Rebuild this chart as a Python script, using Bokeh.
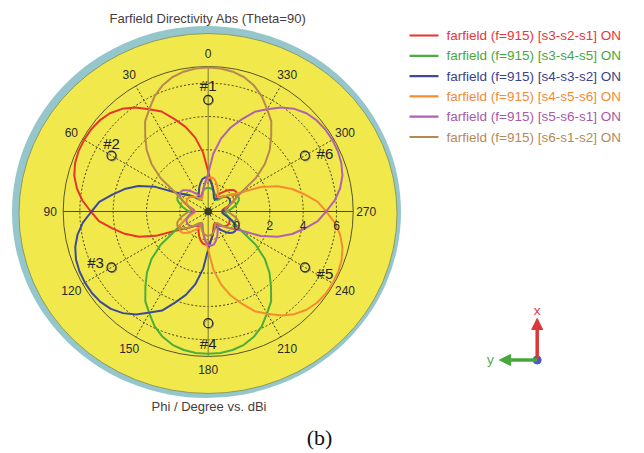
import numpy as np
from bokeh.plotting import figure
from bokeh.models import Range1d, Arrow, NormalHead
from bokeh.core.properties import value
from bokeh.embed import file_html
from bokeh.resources import INLINE

# ---------------- data ----------------
phi_deg = list(range(0, 360, 5))

s3_s2_s1 = [0.70, 1.86, 2.80, 3.56, 4.20, 4.92, 5.38, 5.92, 6.34, 6.64, 6.80, 6.88,
            6.90, 6.88, 6.80, 6.62, 6.30, 5.88, 5.34, 4.88, 4.14, 3.48, 2.72, 1.76,
            0.64, 0.14, -0.18, -0.42, -0.60, -0.66, -0.54, -0.34, -0.12, 0.08, 0.24, 0.30,
            0.24, 0.06, -0.22, -0.52, -0.74, -0.86, -0.88, -0.76, -0.58, -0.46, -0.34, -0.28,
            -0.26, -0.28, -0.34, -0.46, -0.58, -0.74, -0.86, -0.86, -0.72, -0.48, -0.18, 0.12,
            0.30, 0.36, 0.30, 0.12, -0.10, -0.34, -0.54, -0.66, -0.60, -0.42, -0.18, 0.14]

s3_s4_s5 = [-0.28, -0.30, -0.34, -0.46, -0.58, -0.76, -0.86, -0.84, -0.70, -0.46, -0.16, 0.12,
            0.30, 0.34, 0.26, 0.06, -0.14, -0.36, -0.56, -0.68, -0.62, -0.44, -0.20, 0.10,
            0.58, 1.78, 2.74, 3.50, 4.16, 4.88, 5.36, 5.90, 6.30, 6.58, 6.74, 6.82,
            6.84, 6.82, 6.74, 6.58, 6.30, 5.90, 5.36, 4.88, 4.16, 3.50, 2.74, 1.78,
            0.58, 0.08, -0.22, -0.46, -0.64, -0.70, -0.58, -0.36, -0.14, 0.08, 0.26, 0.32,
            0.26, 0.08, -0.22, -0.52, -0.76, -0.86, -0.86, -0.74, -0.56, -0.44, -0.34, -0.30]

s4_s3_s2 = [0.30, 0.36, 0.28, 0.08, -0.14, -0.38, -0.56, -0.68, -0.60, -0.42, -0.18, 0.14,
            0.62, 1.80, 2.76, 3.50, 4.14, 4.86, 5.30, 5.84, 6.26, 6.56, 6.74, 6.82,
            6.84, 6.82, 6.74, 6.56, 6.26, 5.84, 5.30, 4.86, 4.12, 3.48, 2.72, 1.74,
            0.56, 0.08, -0.22, -0.46, -0.62, -0.68, -0.56, -0.34, -0.10, 0.12, 0.26, 0.30,
            0.24, 0.06, -0.22, -0.52, -0.74, -0.86, -0.84, -0.72, -0.54, -0.42, -0.30, -0.24,
            -0.22, -0.24, -0.30, -0.42, -0.56, -0.74, -0.86, -0.86, -0.72, -0.48, -0.18, 0.10]

s4_s5_s6 = [0.30, 0.10, -0.20, -0.50, -0.72, -0.84, -0.86, -0.74, -0.56, -0.44, -0.32, -0.26,
            -0.24, -0.26, -0.32, -0.44, -0.58, -0.76, -0.88, -0.88, -0.74, -0.50, -0.18, 0.10,
            0.30, 0.36, 0.30, 0.10, -0.12, -0.36, -0.56, -0.68, -0.62, -0.44, -0.20, 0.10,
            0.58, 1.78, 2.74, 3.52, 4.18, 4.90, 5.38, 5.92, 6.34, 6.64, 6.82, 6.90,
            6.92, 6.90, 6.82, 6.64, 6.34, 5.92, 5.38, 4.90, 4.18, 3.52, 2.74, 1.78,
            0.58, 0.10, -0.20, -0.44, -0.60, -0.66, -0.54, -0.34, -0.10, 0.12, 0.30, 0.36]

s5_s6_s1 = [0.58, 0.10, -0.20, -0.44, -0.62, -0.68, -0.56, -0.36, -0.12, 0.10, 0.28, 0.34,
            0.28, 0.10, -0.20, -0.50, -0.74, -0.86, -0.86, -0.74, -0.56, -0.44, -0.32, -0.26,
            -0.26, -0.28, -0.34, -0.46, -0.58, -0.76, -0.88, -0.88, -0.74, -0.50, -0.20, 0.10,
            0.30, 0.36, 0.30, 0.10, -0.12, -0.36, -0.56, -0.68, -0.62, -0.44, -0.20, 0.10,
            0.58, 1.78, 2.74, 3.52, 4.18, 4.90, 5.38, 5.92, 6.34, 6.64, 6.80, 6.88,
            6.90, 6.88, 6.80, 6.64, 6.34, 5.92, 5.38, 4.90, 4.18, 3.52, 2.74, 1.78]

s6_s1_s2 = [6.94, 6.91, 6.82, 6.64, 6.34, 5.92, 5.38, 4.90, 4.18, 3.52, 2.74, 1.78,
            0.58, 0.10, -0.20, -0.44, -0.62, -0.68, -0.56, -0.36, -0.12, 0.10, 0.28, 0.34,
            0.28, 0.10, -0.20, -0.50, -0.74, -0.86, -0.86, -0.74, -0.56, -0.44, -0.32, -0.26,
            -0.26, -0.26, -0.32, -0.44, -0.56, -0.74, -0.86, -0.86, -0.74, -0.50, -0.20, 0.10,
            0.28, 0.34, 0.28, 0.10, -0.12, -0.36, -0.56, -0.68, -0.62, -0.44, -0.20, 0.10,
            0.58, 1.78, 2.74, 3.52, 4.18, 4.90, 5.38, 5.92, 6.34, 6.64, 6.82, 6.91]

series_names = ["farfield (f=915) [s3-s2-s1] ON", "farfield (f=915) [s3-s4-s5] ON",
                "farfield (f=915) [s4-s3-s2] ON", "farfield (f=915) [s4-s5-s6] ON",
                "farfield (f=915) [s5-s6-s1] ON", "farfield (f=915) [s6-s1-s2] ON"]
series_values = [s3_s2_s1, s3_s4_s5, s4_s3_s2, s4_s5_s6, s5_s6_s1, s6_s1_s2]
line_colors = ["#e8342c", "#4bae3c", "#3d4a98", "#f58c30", "#b062b0", "#b8884e"]
text_colors = ["#e4383a", "#48a83c", "#3c428c", "#f48a38", "#a85aa8", "#b48a5a"]

angle_ticks = [0, 30, 60, 90, 120, 150, 180, 210, 240, 270, 300, 330]
radial_ticks = [0, 2, 4, 6]
r_min, r_max = -1.7, 7.0

marker_labels = ["#1", "#2", "#3", "#4", "#5", "#6"]
marker_phi = [0, 60, 120, 180, 240, 300]
marker_db = [5.0, 5.0, 5.0, 5.0, 5.0, 5.0]

# ---------------- geometry ----------------
W, H = 644, 453
CX, CY = 207.7, 211.0      # page pixel coordinates of the pole
R_OUT = 145.0
S = R_OUT / (r_max - r_min)

def polar_xy(phi, db):
    phi = np.radians(np.asarray(phi, dtype=float))
    r = (np.asarray(db, dtype=float) - r_min) * S
    return CX - r * np.sin(phi), -(CY - r * np.cos(phi))

p = figure(width=W, height=H, x_range=Range1d(0, W), y_range=Range1d(-H, 0),
           output_backend="svg", toolbar_location=None, min_border=0,
           x_axis_location=None, y_axis_location=None)
p.grid.visible = False
p.outline_line_color = None
p.background_fill_color = "white"
p.border_fill_color = "white"

FONT = value("Liberation Sans")

# background disks
p.ellipse(x=[206], y=[-211.5], width=[389], height=[372], fill_color="#95c6cc", line_color=None)
p.ellipse(x=[207.5], y=[-213], width=[378], height=[360], fill_color="#f1e84c",
          line_color="#7d8a55", line_width=0.8)

# grid circles
for t in radial_ticks:
    rr = (t - r_min) * S
    p.ellipse(x=[CX], y=[-CY], width=[2 * rr], height=[2 * rr], fill_color=None,
              line_color="#2a2a1a", line_dash="2 2", line_width=0.9)
p.ellipse(x=[CX], y=[-CY], width=[2 * R_OUT], height=[2 * R_OUT], fill_color=None,
          line_color="#55552a", line_width=1.0)

# radial dashed lines
for a in angle_ticks:
    if a % 90 == 0:
        continue
    x1, y1 = polar_xy(a, r_max)
    p.segment(x0=[CX], y0=[-CY], x1=[float(x1)], y1=[float(y1)], line_color="#2a2a1a",
              line_dash="2 2", line_width=0.9)

# main axes
p.segment(x0=[CX - R_OUT], y0=[-CY], x1=[CX + R_OUT], y1=[-CY], line_color="#4a4a22", line_width=1.2)
p.segment(x0=[CX], y0=[-CY + R_OUT], x1=[CX], y1=[-CY - R_OUT], line_color="#8c8a34", line_width=1.2)

# curves
for vals, col in zip(series_values, line_colors):
    xs, ys = polar_xy(phi_deg + [phi_deg[0]], vals + [vals[0]])
    p.line(xs, ys, line_color=col, line_width=2.0)

# centre dot
p.scatter(x=[CX], y=[-CY], size=7, marker="circle", fill_color="#3a3a2a", line_color="#3a3a2a")

# markers
mx, my = polar_xy(marker_phi, marker_db)
p.scatter(x=mx + 0.8, y=my - 0.8, size=9, marker="circle", fill_color=None, line_color="#8a8a60", line_width=1)
p.scatter(x=mx, y=my, size=9, marker="circle", fill_color=None, line_color="#222222", line_width=1.1)
lab_dx = [0, 0, -16, 0, 20, 20]
lab_dy = [-14, -12, -5, 20, 6, -2]
p.text(x=list(mx + np.array(lab_dx)), y=list(my - np.array(lab_dy)), text=marker_labels,
       text_font=FONT, text_font_size="15px", text_color="#222222",
       text_align="center", text_baseline="middle")

# angle labels
ax_, ay_ = polar_xy(angle_ticks, [r_min + 158 / S] * len(angle_ticks))
p.text(x=list(ax_), y=list(ay_), text=[str(a) for a in angle_ticks], text_font=FONT,
       text_font_size="12px", text_color="#2b2b2b", text_align="center", text_baseline="middle")

# radial labels
rx, ry = polar_xy([270] * len(radial_ticks), radial_ticks)
p.text(x=list(rx), y=list(ry - 14), text=[str(t) for t in radial_ticks], text_font=FONT,
       text_font_size="12px", text_color="#2b2b2b", text_align="center", text_baseline="middle")

# titles
p.text(x=[207.5], y=[-17.5], text=["Farfield Directivity Abs (Theta=90)"], text_font=FONT,
       text_font_size="13px", text_color="#4a3c3c", text_align="center", text_baseline="middle")
p.text(x=[208.5], y=[-405.5], text=["Phi / Degree vs. dBi"], text_font=FONT,
       text_font_size="13px", text_color="#4a3c3c", text_align="center", text_baseline="middle")
p.text(x=[319], y=[-437], text=["(b)"], text_font=value("Liberation Serif"),
       text_font_size="22px", text_color="#111111", text_align="center", text_baseline="middle")

# legend
for i, (name, lc, tc) in enumerate(zip(series_names, line_colors, text_colors)):
    yy = -(35 + i * 20.3)
    p.segment(x0=[409], y0=[yy], x1=[438], y1=[yy], line_color=lc, line_width=2.2)
    p.text(x=[446], y=[yy], text=[name], text_font=FONT, text_font_size="13.5px",
           text_color=tc, text_align="left", text_baseline="middle")

# axis triad
p.add_layout(Arrow(end=NormalHead(size=11, fill_color="#d8383a", line_color="#d8383a"),
                   x_start=536.7, y_start=-358, x_end=536.7, y_end=-318,
                   line_color="#d8383a", line_width=3.5))
p.add_layout(Arrow(end=NormalHead(size=11, fill_color="#46a83a", line_color="#46a83a"),
                   x_start=536.7, y_start=-359.5, x_end=499, y_end=-359.5,
                   line_color="#46a83a", line_width=3.5))
p.scatter(x=[536.7], y=[-359.5], size=8, marker="circle", fill_color="#4a58c8", line_color="#4a58c8")
p.text(x=[536.7], y=[-310.5], text=["x"], text_font=value("Liberation Mono"), text_font_size="13px",
       text_color="#d8383a", text_align="center", text_baseline="middle")
p.text(x=[490], y=[-359.5], text=["y"], text_font=value("Liberation Mono"), text_font_size="13px",
       text_color="#46a83a", text_align="center", text_baseline="middle")

open("out.html", "w").write(file_html(p, INLINE))
